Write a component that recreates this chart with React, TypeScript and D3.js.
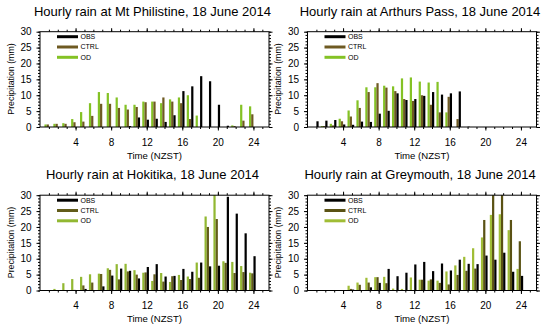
import { useEffect, useRef } from "react";
import * as d3 from "d3";

// hours 1..24 (NZST)
const hours = [1, 2, 3, 4, 5, 6, 7, 8, 9, 10, 11, 12, 13, 14, 15, 16, 17, 18, 19, 20, 21, 22, 23, 24];
const xTicks = [4, 8, 12, 16, 20, 24];
const yTicks = [0, 5, 10, 15, 20, 25, 30];
const legendNames = ["OBS", "CTRL", "OD"];

const philistineObs = [0, 0, 0, 0, 0, 0, 0, 0, 0, 0.3, 3, 2.3, 2.6, 1.6, 3.7, 11.3, 12.8, 16, 14.4, 7, 0.4, 0, 0, 0];
const philistineCtrl = [0.8, 1, 1, 1.5, 1.7, 3.5, 7.3, 7.3, 6, 5.5, 6.3, 7.8, 8, 9.3, 8, 7.5, 2.5, 0, 0, 0, 0, 0.3, 2, 4];
const philistineOd = [0.8, 1, 1.2, 2.5, 4.7, 7.5, 11, 10.7, 9.3, 7, 7, 8, 8, 7.5, 8.7, 9.3, 10, 3.6, 0, 0, 0, 0.5, 7, 6.5];

const arthursObs = [1.8, 2, 2.2, 0.8, 0.7, 1.7, 1.6, 4.2, 5.1, 10.6, 8.5, 8.8, 9.8, 11, 10.2, 10.6, 11.2, 0.1, 0, 0, 0, 0, 0, 0];
const arthursCtrl = [0, 0.3, 0.5, 1.8, 3.3, 6, 11, 13.8, 12.4, 11.3, 8.8, 8.2, 10, 7, 4.6, 9.5, 2.5, 0, 0, 0, 0, 0, 0, 0];
const arthursOd = [0, 0.3, 1, 2.6, 5.2, 8.4, 12.5, 12.5, 13, 12.8, 15.3, 15.6, 14.3, 14, 14.2, 4.6, 0, 0, 0, 0, 0, 0, 0, 0];

const hokitikaObs = [0, 0, 0, 0, 0.5, 0, 1.3, 4.7, 6.9, 6.2, 3.8, 7.4, 8.3, 4.4, 4.6, 6.8, 5.9, 8.8, 7.6, 7.8, 29.5, 24.2, 18, 10.8];
const hokitikaCtrl = [0, 0, 0, 0.2, 1.6, 2.5, 5.2, 6.5, 3.5, 6, 5, 5.7, 5.1, 2.8, 4.5, 3.3, 3.6, 4, 20, 22.5, 8.7, 5.5, 5.8, 5.4];
const hokitikaOd = [0, 0.5, 2.3, 3.6, 4.3, 5.1, 5.3, 7, 8.3, 8.4, 6.4, 5.6, 3, 5.5, 2.7, 4.9, 4.4, 8.8, 23.3, 30, 9.2, 9, 7.7, 5.6];

const greymouthObs = [0, 0, 0, 0, 0.3, 0, 1, 2.4, 6.8, 4.5, 5.6, 8.2, 9, 6.1, 8.5, 6.3, 9.7, 8.4, 8.3, 11, 9.7, 11.9, 5.9, 4.6];
const greymouthCtrl = [0, 0, 0, 0, 0.5, 1.8, 2.5, 4.2, 2.3, 0, 0, 0, 3.4, 3.5, 2.4, 1.9, 4.9, 6.2, 6.9, 22.2, 31, 31, 22.2, 15.5];
const greymouthOd = [0, 0, 0, 0, 1.5, 2.5, 4, 4.2, 4.3, 0.6, 0.5, 4.1, 3.4, 3.1, 3.1, 6, 7.9, 10.6, 13.3, 16.7, 23.8, 24, 19, 6.8];

const OBS_COLOR = "#000000";
const FONT = "'Liberation Sans', Arial, Helvetica, sans-serif";

const PW = 229;
const PH = 95.3;

function Panel({ title, obs, ctrl, od, ox, oy, ctrlColor, odColor }: any) {
    const ref = useRef<SVGGElement>(null);

    useEffect(() => {
        const g = d3.select(ref.current);
        g.selectAll("*").remove();

        const x = d3.scaleLinear().domain([0, 25.75]).range([0, PW]);
        const y = d3.scaleLinear().domain([0, 30]).range([PH, 0]).clamp(true);
        const bw = x(0.25) - x(0);

        // bars: OD, CTRL, OBS side by side at each hour
        const series = [
            { vals: od, color: odColor, off: -0.375 },
            { vals: ctrl, color: ctrlColor, off: -0.125 },
            { vals: obs, color: OBS_COLOR, off: 0.125 },
        ];
        series.forEach(s => {
            g.append("g")
                .selectAll("rect")
                .data(hours)
                .join("rect")
                .attr("x", (h) => x(h + s.off) - bw / 2)
                .attr("width", bw)
                .attr("y", (h, i) => y(s.vals[i]))
                .attr("height", (h, i) => PH - y(s.vals[i]))
                .attr("fill", s.color);
        });

        // box
        g.append("rect")
            .attr("width", PW).attr("height", PH)
            .attr("fill", "none").attr("stroke", "#000").attr("stroke-width", 1);

        const minorX = d3.range(1, 26);
        const minorY = d3.range(0, 31);
        const styleAxis = (sel: any) => {
            sel.select(".domain").remove();
            sel.selectAll("line").attr("stroke", "#000");
            sel.attr("font-family", FONT).attr("font-size", 10);
        };

        g.append("g").attr("transform", `translate(0,${PH})`)
            .call(d3.axisBottom(x).tickValues(xTicks).tickSize(3.5).tickPadding(8))
            .call(styleAxis);
        g.append("g").attr("transform", `translate(0,${PH})`)
            .call(d3.axisBottom(x).tickValues(minorX).tickSize(2).tickFormat(() => ""))
            .call(styleAxis);
        g.append("g")
            .call(d3.axisTop(x).tickValues(xTicks).tickSize(3.5).tickFormat(() => ""))
            .call(styleAxis);
        g.append("g")
            .call(d3.axisTop(x).tickValues(minorX).tickSize(2).tickFormat(() => ""))
            .call(styleAxis);
        g.append("g")
            .call(d3.axisLeft(y).tickValues(yTicks).tickSize(3.5).tickPadding(5))
            .call(styleAxis);
        g.append("g")
            .call(d3.axisLeft(y).tickValues(minorY).tickSize(2).tickFormat(() => ""))
            .call(styleAxis);
        g.append("g").attr("transform", `translate(${PW},0)`)
            .call(d3.axisRight(y).tickValues(yTicks).tickSize(3.5).tickFormat(() => ""))
            .call(styleAxis);
        g.append("g").attr("transform", `translate(${PW},0)`)
            .call(d3.axisRight(y).tickValues(minorY).tickSize(2).tickFormat(() => ""))
            .call(styleAxis);

        // legend
        const colors = [OBS_COLOR, ctrlColor, odColor];
        const lg = g.append("g");
        legendNames.forEach((n, i) => {
            const ly = 5 + i * 10.3;
            lg.append("line")
                .attr("x1", 17).attr("x2", 38).attr("y1", ly).attr("y2", ly)
                .attr("stroke", colors[i]).attr("stroke-width", 3);
            lg.append("text")
                .attr("x", 40.5).attr("y", ly + 2.4)
                .attr("font-family", FONT).attr("font-size", 7)
                .text(n);
        });
    }, [obs, ctrl, od]);

    const left = ox === 0 ? 40 : 307.5;
    return (
        <g transform={`translate(0,${oy})`}>
            <text x={left + PW / 2 - 2} y={15.7} textAnchor="middle"
                fontFamily={FONT} fontSize={13}>
                {title}
            </text>
            <text transform={`translate(${ox + 14},79) rotate(-90)`} textAnchor="middle"
                fontFamily={FONT} fontSize={8.8}>Precipitation (mm)</text>
            <text x={left + PW / 2} y={158.7} textAnchor="middle"
                fontFamily={FONT} fontSize={9.6}>Time (NZST)</text>
            <g ref={ref} transform={`translate(${left},31.7)`} />
        </g>
    );
}

export default function App() {
    return (
        <svg width={550} height={329} style={{ position: "absolute", left: 0, top: 0, background: "#fff" }}>
            <Panel title="Hourly rain at Mt Philistine, 18 June 2014" obs={philistineObs} ctrl={philistineCtrl} od={philistineOd}
                ox={0} oy={0} ctrlColor="#6e5a22" odColor="#84c225" />
            <Panel title="Hourly rain at Arthurs Pass, 18 June 2014" obs={arthursObs} ctrl={arthursCtrl} od={arthursOd}
                ox={267} oy={0} ctrlColor="#6e5a22" odColor="#84c225" />
            <Panel title="Hourly rain at Hokitika, 18 June 2014" obs={hokitikaObs} ctrl={hokitikaCtrl} od={hokitikaOd}
                ox={0} oy={163.5} ctrlColor="#625c1a" odColor="#92b832" />
            <Panel title="Hourly rain at Greymouth, 18 June 2014" obs={greymouthObs} ctrl={greymouthCtrl} od={greymouthOd}
                ox={267} oy={163.5} ctrlColor="#5a5214" odColor="#a0bd35" />
        </svg>
    );
}
